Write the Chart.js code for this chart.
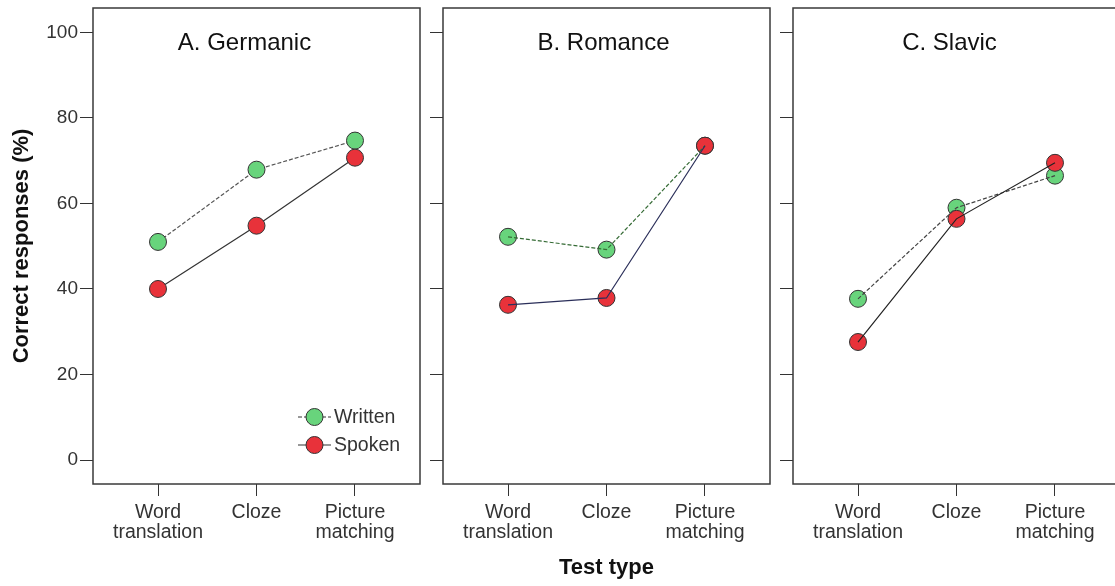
<!DOCTYPE html>
<html>
<head>
<meta charset="utf-8">
<script src="https://cdn.jsdelivr.net/npm/chart.js@4.4.1/dist/chart.umd.min.js"></script>
<style>
  html, body { margin:0; padding:0; background:#fff; overflow:hidden; width:1115px; height:586px; }
  canvas { position:absolute; top:0; }
</style>
</head>
<body>
<canvas id="cA" width="428" height="586" style="left:0px"></canvas>
<canvas id="cB" width="350" height="586" style="left:428px"></canvas>
<canvas id="cC" width="352" height="586" style="left:778px"></canvas>
<script>
// ---- data ----
const categories = [["Word", "translation"], "Cloze", ["Picture", "matching"]];
const panelTitles = ["A. Germanic", "B. Romance", "C. Slavic"];
const seriesNames = ["Written", "Spoken"];
const yTicks = [0, 20, 40, 60, 80, 100];
const writtenGermanic = [51.0, 67.9, 74.7];
const spokenGermanic  = [40.0, 54.8, 70.7];
const writtenRomance  = [52.2, 49.2, 73.5];
const spokenRomance   = [36.3, 37.9, 73.5];
const writtenSlavic   = [37.7, 59.0, 66.5];
const spokenSlavic    = [27.6, 56.4, 69.5];
const yAxisTitle = "Correct responses (%)";
const xAxisTitle = "Test type";

// ---- styles ----
const FONT = "'Liberation Sans', Arial, sans-serif";
const GREEN = "rgb(104,212,124)";
const RED = "rgb(232,50,58)";
const MARK_BORDER = "#333";

function pts(vals) { return vals.map((v, i) => ({ x: i, y: v })); }

function makePanel(id, idx, written, spoken, cfg) {
  const panelPlugin = {
    id: 'panel' + idx,
    beforeDatasetsDraw(chart) {
      const { ctx, chartArea: a } = chart;
      ctx.save();
      ctx.strokeStyle = '#3a3a3a';
      ctx.lineWidth = 1.5;
      ctx.strokeRect(a.left, a.top, a.right - a.left, a.bottom - a.top);
      ctx.fillStyle = '#111';
      ctx.font = "24px " + FONT;
      ctx.textAlign = 'center';
      ctx.textBaseline = 'alphabetic';
      ctx.fillText(panelTitles[idx], (a.left + a.right) / 2 + cfg.titleShift, 50);
      ctx.restore();
    },
    afterDatasetsDraw(chart) {
      if (!cfg.legend) return;
      const { ctx, chartArea: a } = chart;
      const rows = [
        { name: seriesNames[0], fill: GREEN, dash: [4, 2], y: 417 },
        { name: seriesNames[1], fill: RED, dash: [], y: 445 }
      ];
      ctx.save();
      rows.forEach(r => {
        const x0 = a.right - 122, x1 = a.right - 89, cx = (x0 + x1) / 2;
        ctx.strokeStyle = '#333';
        ctx.lineWidth = 1.2;
        ctx.setLineDash(r.dash);
        ctx.beginPath(); ctx.moveTo(x0, r.y); ctx.lineTo(x1, r.y); ctx.stroke();
        ctx.setLineDash([]);
        ctx.beginPath(); ctx.arc(cx, r.y, 8.5, 0, Math.PI * 2);
        ctx.fillStyle = r.fill; ctx.fill();
        ctx.lineWidth = 1; ctx.strokeStyle = MARK_BORDER; ctx.stroke();
        ctx.fillStyle = '#333';
        ctx.font = "19.5px " + FONT;
        ctx.textAlign = 'left';
        ctx.textBaseline = 'middle';
        ctx.fillText(r.name, a.right - 86, r.y + 1);
      });
      ctx.restore();
    }
  };

  const pointDs = (label, vals, fill, lineColor, dash, showLine) => ({
    label, data: pts(vals),
    showLine, borderColor: lineColor, borderWidth: 1.2, borderDash: dash,
    pointRadius: 8.5, pointHoverRadius: 8.5, pointBackgroundColor: fill,
    pointBorderColor: MARK_BORDER, pointBorderWidth: 1, tension: 0, fill: false
  });
  const lineDs = (label, vals, lineColor, dash) => ({
    label, data: pts(vals), showLine: true, borderColor: lineColor, borderWidth: 1.2,
    borderDash: dash, pointRadius: 0, pointHoverRadius: 0, tension: 0, fill: false
  });

  let datasets;
  if (cfg.linesOnTop) {
    datasets = [
      lineDs(seriesNames[1], spoken, cfg.spokenLine, []),
      lineDs(seriesNames[0], written, cfg.writtenLine, [4, 2]),
      pointDs(seriesNames[1], spoken, RED, cfg.spokenLine, [], false),
      pointDs(seriesNames[0], written, GREEN, cfg.writtenLine, [4, 2], false)
    ];
  } else {
    datasets = [
      pointDs(seriesNames[1], spoken, RED, cfg.spokenLine, [], true),
      pointDs(seriesNames[0], written, GREEN, cfg.writtenLine, [4, 2], true)
    ];
  }

  return new Chart(document.getElementById(id), {
    type: 'line',
    data: { datasets },
    options: {
      responsive: false, animation: false, devicePixelRatio: 1,
      layout: { autoPadding: false, padding: { left: 0, right: cfg.padRight, top: 8, bottom: 0 } },
      plugins: { legend: { display: false }, tooltip: { enabled: false }, title: { display: false } },
      events: [],
      scales: {
        x: {
          type: 'linear', min: -0.66, max: 2.66,
          afterBuildTicks: s => { s.ticks = categories.map((c, i) => ({ value: i })); },
          ticks: {
            callback: v => categories[v], color: '#333', padding: 6,
            font: { family: FONT, size: 19.5, lineHeight: 1.05 }, maxRotation: 0, autoSkip: false
          },
          grid: { display: true, drawOnChartArea: false, drawTicks: true, tickLength: 12, color: '#333', lineWidth: 1 },
          border: { display: false },
          title: cfg.xTitle ? { display: true, text: xAxisTitle, color: '#111',
            font: { family: FONT, size: 22, weight: 'bold' }, padding: { top: 0, bottom: 5 } } : { display: false },
          afterFit: s => { s.height = 102; s.paddingLeft = 0; s.paddingRight = 0; s.paddingTop = 0; s.paddingBottom = 0; }
        },
        y: {
          type: 'linear', min: -5.6, max: 105.7,
          afterBuildTicks: s => { s.ticks = yTicks.map(v => ({ value: v })); },
          ticks: {
            display: cfg.yLabels, color: '#333', padding: 2,
            font: { family: FONT, size: 19 }
          },
          grid: { display: true, drawOnChartArea: false, drawTicks: true, tickLength: 13, color: '#333', lineWidth: 1 },
          border: { display: false },
          title: cfg.yTitle ? { display: true, text: yAxisTitle, color: '#111',
            font: { family: FONT, size: 22, weight: 'bold' }, padding: { top: 9, bottom: 0 } } : { display: false },
          afterFit: s => { s.width = cfg.yWidth; s.paddingLeft = 0; s.paddingRight = 0; s.paddingTop = 0; s.paddingBottom = 0; }
        }
      }
    },
    plugins: [panelPlugin]
  });
}

makePanel('cA', 0, writtenGermanic, spokenGermanic, {
  yWidth: 93, padRight: 8, yLabels: true, yTitle: true, xTitle: false, legend: true, titleShift: -12,
  linesOnTop: false, writtenLine: '#555', spokenLine: '#333'
});
makePanel('cB', 1, writtenRomance, spokenRomance, {
  yWidth: 15, padRight: 8, yLabels: false, yTitle: false, xTitle: true, legend: false, titleShift: -3,
  linesOnTop: true, writtenLine: '#356b35', spokenLine: '#2b2f5a'
});
makePanel('cC', 2, writtenSlavic, spokenSlavic, {
  yWidth: 15, padRight: 10, yLabels: false, yTitle: false, xTitle: false, legend: false, titleShift: -7,
  linesOnTop: true, writtenLine: '#444', spokenLine: '#222'
});
</script>
</body>
</html>
